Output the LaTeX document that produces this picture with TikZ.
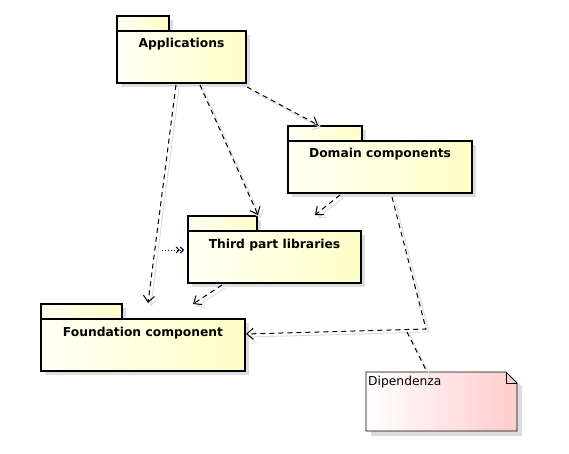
\documentclass[tikz,border=0pt]{standalone}
\usepackage{fontspec}
\setmainfont{DejaVu Sans}
\usetikzlibrary{arrows.meta,calc,shadows}
\definecolor{pkgleft}{RGB}{255,255,244}
\definecolor{pkgright}{RGB}{255,255,200}
\definecolor{noteright}{RGB}{255,204,204}
\definecolor{shadowgray}{RGB}{221,221,221}

\begin{document}
\begin{tikzpicture}[x=1pt,y=-1pt,
   pkg/.style={draw,line width=1.7pt,anchor=north west,inner sep=0pt,outer sep=0pt,
     left color=pkgleft,right color=pkgright,
     drop shadow={shadow xshift=4pt,shadow yshift=-4pt,fill=shadowgray,opacity=1},
     font=\fontsize{12.3}{14}\selectfont\bfseries,
     text height=17pt,text depth=35pt,minimum height=52pt},
   tab/.style={pkg,anchor=south west,text height=0pt,text depth=0pt,minimum height=15pt},
   dep/.style={draw,line width=1pt,dash pattern=on 5pt off 4pt,
     -{Straight Barb[length=6.5pt,width=11pt]},
     preaction={draw=shadowgray,solid,line width=1pt,transform canvas={shift={(3pt,-3pt)}}}}]
   \useasboundingbox (0,0) rectangle (569,454);

   \node[tab,minimum width=52pt] (apps-tab) at (117,31) {};
   \node[pkg,minimum width=129pt] (apps) at (117,31) {Applications};
   \node[tab,minimum width=74pt] (domain-tab) at (288,141) {};
   \node[pkg,minimum width=184pt] (domain) at (288,141) {Domain components};
   \node[tab,minimum width=69pt] (thirdp-tab) at (188,231) {};
   \node[pkg,minimum width=173pt] (thirdp) at (188,231) {Third part libraries};
   \node[tab,minimum width=81pt] (found-tab) at (41,319) {};
   \node[pkg,minimum width=204pt] (found) at (41,319) {Foundation component};

   % note
   \node[anchor=north west,minimum width=151pt,minimum height=59pt,inner sep=0pt,outer sep=0pt] (note) at (366,372) {};
   \fill[shadowgray] ($(note.north west)+(5,5)$) -- ($(note.north east)+(-5,5)$) -- ($(note.north east)+(5,15)$)
      -- ($(note.south east)+(5,5)$) -- ($(note.south west)+(5,5)$) -- cycle;
   \shade[left color=white,right color=noteright,draw=black,line width=0.9pt]
      (note.north west) -- ($(note.north east)+(-11,0)$) -- ($(note.north east)+(0,11)$)
      -- (note.south east) -- (note.south west) -- cycle;
   \draw[line width=0.9pt] ($(note.north east)+(-11,0)$) |- ($(note.north east)+(0,11)$);
   \node[anchor=base west,inner sep=0pt,font=\fontsize{12.3}{14}\selectfont] (note-text)
      at ($(note.north west)+(2,13)$) {Dipendenza};

   \coordinate (bend) at (426,329);
   \coordinate (hook) at (407,332);
   \coordinate (loose) at (162,250);

   \draw[dep] ([xshift=-5.5pt,yshift=-2pt]apps.south) -- ([xshift=5pt,yshift=16pt]found.north);
   \draw[dep] ([xshift=18.5pt,yshift=-2pt]apps.south) -- ([xshift=-16.5pt,yshift=16pt]thirdp.north);
   \draw[dep] ([xshift=1pt,yshift=-4pt]apps.south east) -- ([xshift=-62pt,yshift=16pt]domain.north);
   \draw[dep] ([xshift=-40pt,yshift=-2pt]domain.south) -- ([xshift=40.5pt,yshift=16pt]thirdp.north);
   \draw[dep] ([xshift=-52.5pt,yshift=-2pt]thirdp.south) -- ([xshift=50pt,yshift=15pt]found.north);
   \draw[dep] ([xshift=12pt,yshift=-4pt]domain.south) -- (bend) -- ([xshift=1pt,yshift=11pt]found.east);
   \draw[line width=1pt,dash pattern=on 5pt off 4pt,
     preaction={draw=shadowgray,solid,line width=1pt,transform canvas={shift={(3pt,-3pt)}}}]
     (hook) -- ([xshift=-14.5pt]note.north);
   \draw[line width=1pt,dotted,-{Straight Barb[length=3pt,width=6pt]Straight Barb[length=3pt,width=6pt]}]
     (loose) -- ([xshift=-4pt,yshift=7pt]thirdp.west);
\end{tikzpicture}
\end{document}
